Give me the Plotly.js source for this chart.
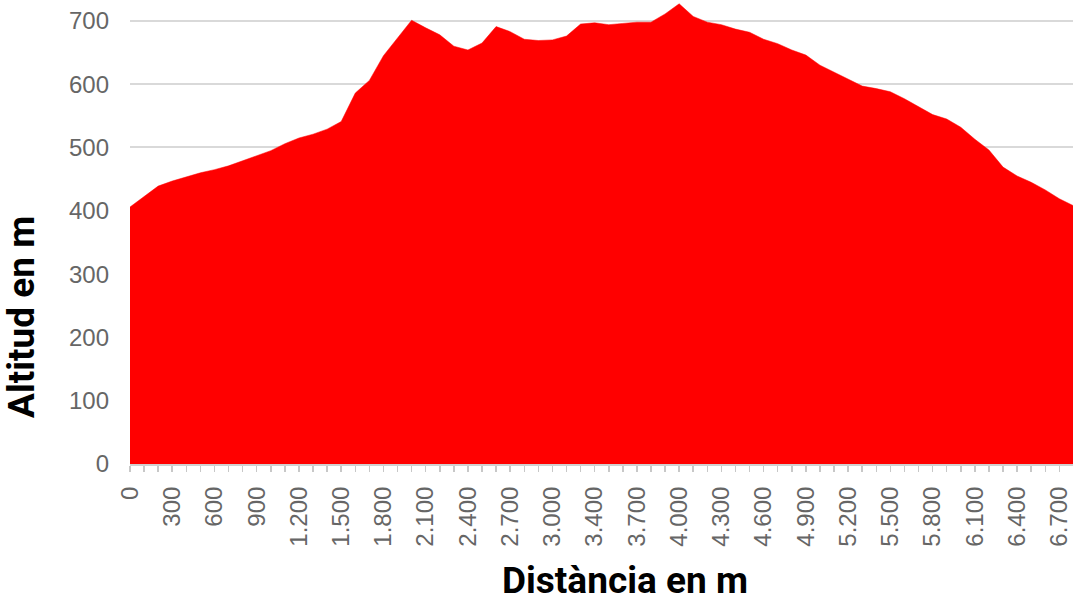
<!DOCTYPE html>
<html>
<head>
<meta charset="utf-8">
<script src="https://cdn.plot.ly/plotly-3.0.1.min.js"></script>
<style>html,body{margin:0;padding:0;background:#fff;}#chart{width:1073px;height:602px;}</style>
</head>
<body>
<div id="chart"></div>
<script>
// Distància (m) — categories
const distancies = ["0","100","200","300","400","500","600","700","800","900",
  "1.000","1.100","1.200","1.300","1.400","1.500","1.600","1.700","1.800","1.900",
  "2.000","2.100","2.200","2.300","2.400","2.500","2.600","2.700","2.800","2.900",
  "3.000","3.100","3.200","3.400","3.500","3.600","3.700","3.800","3.900","4.000",
  "4.100","4.200","4.300","4.400","4.500","4.600","4.700","4.800","4.900","5.000",
  "5.100","5.200","5.300","5.400","5.500","5.600","5.700","5.800","5.900","6.000",
  "6.100","6.200","6.300","6.400","6.500","6.600","6.700","6.800"];
// Altitud (m)
const altituds = [406,423,439,447,454,460,465,471,479,487,
  495,506,515,521,529,541,586,606,645,673,
  701,689,678,660,654,665,691,683,671,669,
  670,676,695,697,694,696,698,698,711,727,
  707,698,694,687,682,671,664,654,646,630,
  619,608,597,593,588,577,564,552,545,532,
  513,496,469,455,445,433,419,408];
const titolX = "Distància en m";
const titolY = "Altitud en m";
const yTicks = [0,100,200,300,400,500,600,700];

const tickText = distancies.map((d, i) => (i % 3 === 0 ? d : ""));

const trace = {
  type: "scatter",
  mode: "lines",
  x: distancies,
  y: altituds,
  fill: "tozeroy",
  fillcolor: "#FF0000",
  line: {color: "#FF0000", width: 0.5},
  hoverinfo: "x+y"
};

const layout = {
  width: 1073, height: 602,
  margin: {l: 130, r: 0, t: 0, b: 138},
  paper_bgcolor: "#ffffff",
  plot_bgcolor: "#ffffff",
  showlegend: false,
  xaxis: {
    type: "category",
    range: [0, 66.97],
    tickmode: "array",
    tickvals: distancies,
    ticktext: tickText,
    tickangle: -90,
    ticks: "outside",
    ticklen: 6,
    tickwidth: 1.5,
    tickcolor: "#c8c8c8",
    showgrid: false,
    showline: true,
    linecolor: "#d0d0d0",
    linewidth: 2,
    zeroline: false,
    tickfont: {family: "Liberation Sans, Arial, sans-serif", size: 24, color: "#666666"},
    ticklabelstandoff: 5
  },
  yaxis: {
    range: [0, 733],
    tickmode: "array",
    tickvals: yTicks,
    ticks: "",
    showgrid: true,
    gridcolor: "#d9d9d9",
    gridwidth: 2,
    zeroline: false,
    showline: false,
    tickfont: {family: "Liberation Sans, Arial, sans-serif", size: 24, color: "#666666"},
    ticklabelstandoff: 20
  },
  annotations: [
    {text: titolX, xref: "paper", yref: "paper", x: 0.525, y: -0.25, xanchor: "center", yanchor: "middle",
     showarrow: false, font: {family: "Roboto, sans-serif", size: 37, color: "#000000", weight: "bold"}},
    {text: titolY, xref: "paper", yref: "paper", x: -0.1145, y: 0.317, xanchor: "center", yanchor: "middle",
     textangle: -90, showarrow: false, font: {family: "Roboto, sans-serif", size: 37, color: "#000000", weight: "bold"}}
  ]
};

Plotly.newPlot("chart", [trace], layout, {displayModeBar: false, staticPlot: true});
</script>
</body>
</html>
